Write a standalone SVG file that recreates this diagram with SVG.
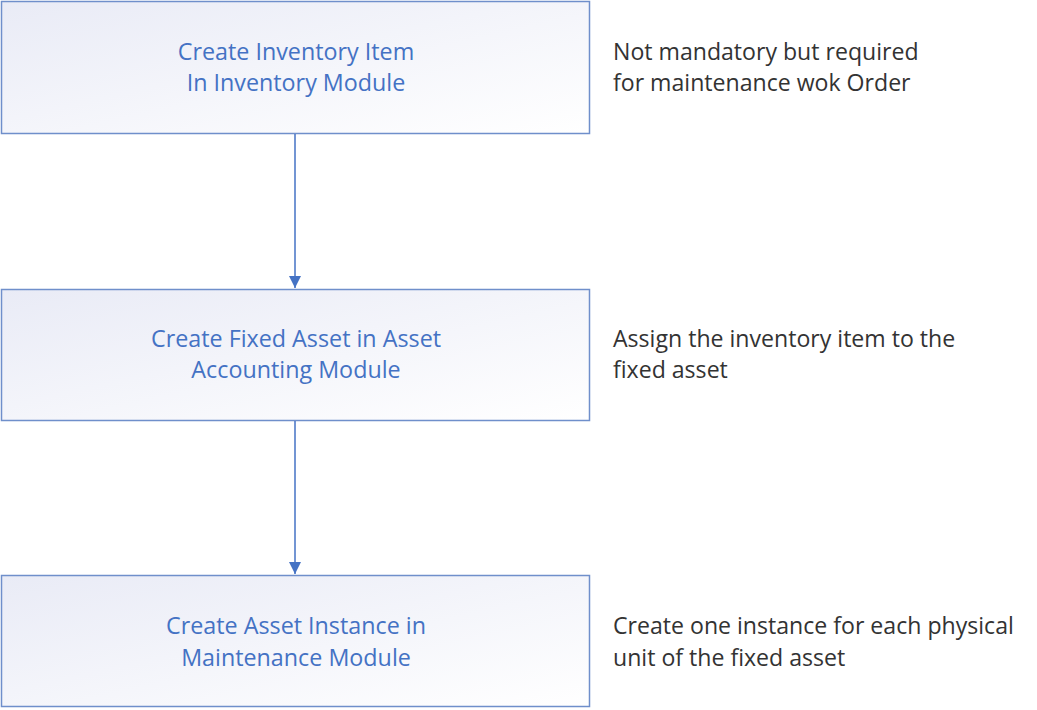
<svg xmlns="http://www.w3.org/2000/svg" width="1037" height="710" viewBox="0 0 1037 710">
<defs>
<linearGradient id="g" x1="0" y1="0" x2="1" y2="1">
<stop offset="0" stop-color="#E9EBF6"/>
<stop offset="1" stop-color="#FFFFFF"/>
</linearGradient>
<marker id="ah" markerWidth="12" markerHeight="12" refX="10" refY="5" orient="auto" markerUnits="userSpaceOnUse" viewBox="0 0 10 10">
<path d="M0,0 L10,5 L0,10 z" fill="#4472C4"/>
</marker>
<style>
.box{fill:url(#g);stroke:#6F8FCB;stroke-width:1.5}
.t{font-family:"Open Sans","Noto Sans",sans-serif;font-size:23.3px;fill:#4472C4;text-anchor:middle}
.n{font-family:"Open Sans","Noto Sans",sans-serif;font-size:23.1px;fill:#333333}
.c{stroke:#4472C4;stroke-width:1.5;fill:none}
</style>
</defs>
<rect width="1037" height="710" fill="#FFFFFF"/>
<g id="n1">
<rect class="box" x="1.5" y="1.5" width="588" height="132"/>
<text class="t" x="296" y="60">Create Inventory Item</text>
<text class="t" x="296" y="91">In Inventory Module</text>
</g>
<g id="n2">
<rect class="box" x="1.5" y="289.5" width="588" height="131"/>
<text class="t" x="296" y="347">Create Fixed Asset in Asset</text>
<text class="t" x="296" y="378">Accounting Module</text>
</g>
<g id="n3">
<rect class="box" x="1.5" y="575.5" width="588" height="131"/>
<text class="t" x="296" y="634">Create Asset Instance in</text>
<text class="t" x="296" y="666">Maintenance Module</text>
</g>
<g id="notes">
<text class="n" x="613" y="60">Not mandatory but required</text>
<text class="n" x="613" y="91">for maintenance wok Order</text>
<text class="n" x="613" y="347">Assign the inventory item to the</text>
<text class="n" x="613" y="378">fixed asset</text>
<text class="n" x="613" y="634">Create one instance for each physical</text>
<text class="n" x="613" y="666">unit of the fixed asset</text>
</g>
<g id="connectors">
<line class="c" x1="295" y1="134" x2="295" y2="288" marker-end="url(#ah)"/>
<line class="c" x1="295" y1="421" x2="295" y2="574" marker-end="url(#ah)"/>
</g>
</svg>
